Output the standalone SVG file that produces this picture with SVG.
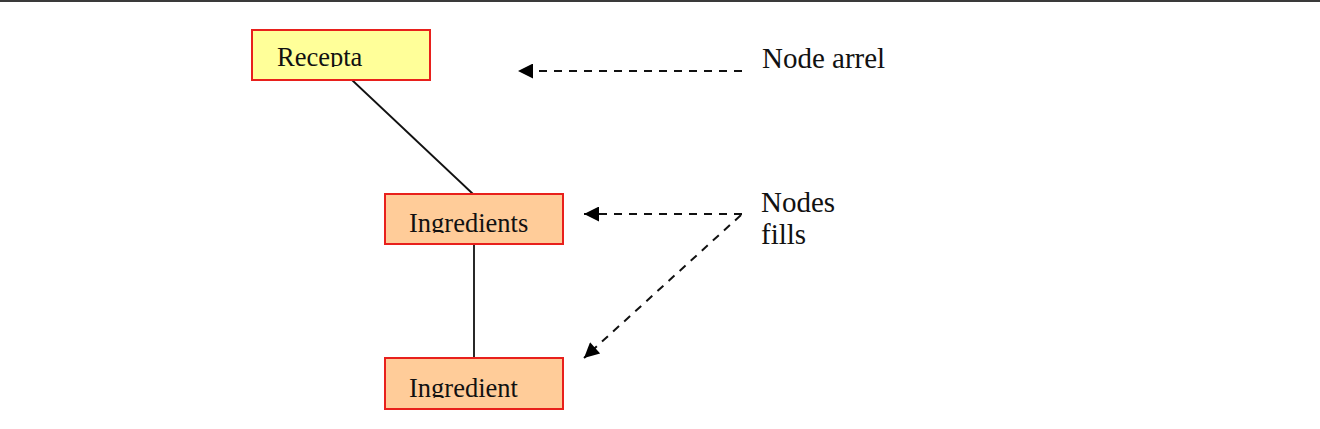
<svg xmlns="http://www.w3.org/2000/svg" width="1320" height="429" viewBox="0 0 1320 429">
<style>
.box{stroke:#e8201c;stroke-width:2}
.yel{fill:#ffff99}
.peach{fill:#ffcc99}
.t{font-family:"Liberation Serif","Times New Roman",serif;fill:#111}
.edge{stroke:#111;stroke-width:1.8;fill:none}
.dash{stroke:#111;stroke-width:2;stroke-dasharray:8 7;fill:none}
</style>
<defs>
<marker id="ah" viewBox="0 0 10 10" refX="10" refY="5" markerWidth="18" markerHeight="15" markerUnits="userSpaceOnUse" orient="auto">
<path d="M0,0 L10,5 L0,10 Z" fill="#000"/>
</marker>
<clipPath id="c1"><rect x="252" y="30" width="178" height="37"/></clipPath>
<clipPath id="c2"><rect x="385" y="194" width="178" height="39"/></clipPath>
<clipPath id="c3"><rect x="385" y="358" width="178" height="40"/></clipPath>
<clipPath id="c4"><rect x="750" y="185" width="120" height="62"/></clipPath>
</defs>
<rect width="1320" height="429" fill="#fff"/>
<line x1="0" y1="1" x2="1320" y2="1" stroke="#3a3a3a" stroke-width="2"/>
<g id="connectors">
<line class="edge" x1="352" y1="80" x2="473" y2="194"/>
<line class="edge" x1="474" y1="244" x2="474" y2="358"/>
<line class="dash" x1="742" y1="71" x2="518" y2="71" marker-end="url(#ah)"/>
<line class="dash" x1="742" y1="214" x2="584" y2="214" marker-end="url(#ah)"/>
<line class="dash" x1="741" y1="215" x2="584" y2="358" marker-end="url(#ah)"/>
</g>
<g id="recepta">
<rect class="box yel" x="252" y="30" width="178" height="50"/>
<text class="t" x="277" y="65.5" font-size="26.5" clip-path="url(#c1)">Recepta</text>
</g>
<g id="ingredients">
<rect class="box peach" x="385" y="194" width="178" height="50"/>
<text class="t" x="409" y="231.5" font-size="26.5" clip-path="url(#c2)">Ingredients</text>
</g>
<g id="ingredient">
<rect class="box peach" x="385" y="358" width="178" height="51"/>
<text class="t" x="409" y="396.5" font-size="26.5" clip-path="url(#c3)">Ingredient</text>
</g>
<g id="node-arrel">
<text class="t" x="762" y="68" font-size="29">Node arrel</text>
</g>
<g id="nodes-fills">
<text class="t" x="761" y="212" font-size="29" clip-path="url(#c4)">Nodes<tspan x="761" y="244">fills</tspan></text>
</g>
</svg>
